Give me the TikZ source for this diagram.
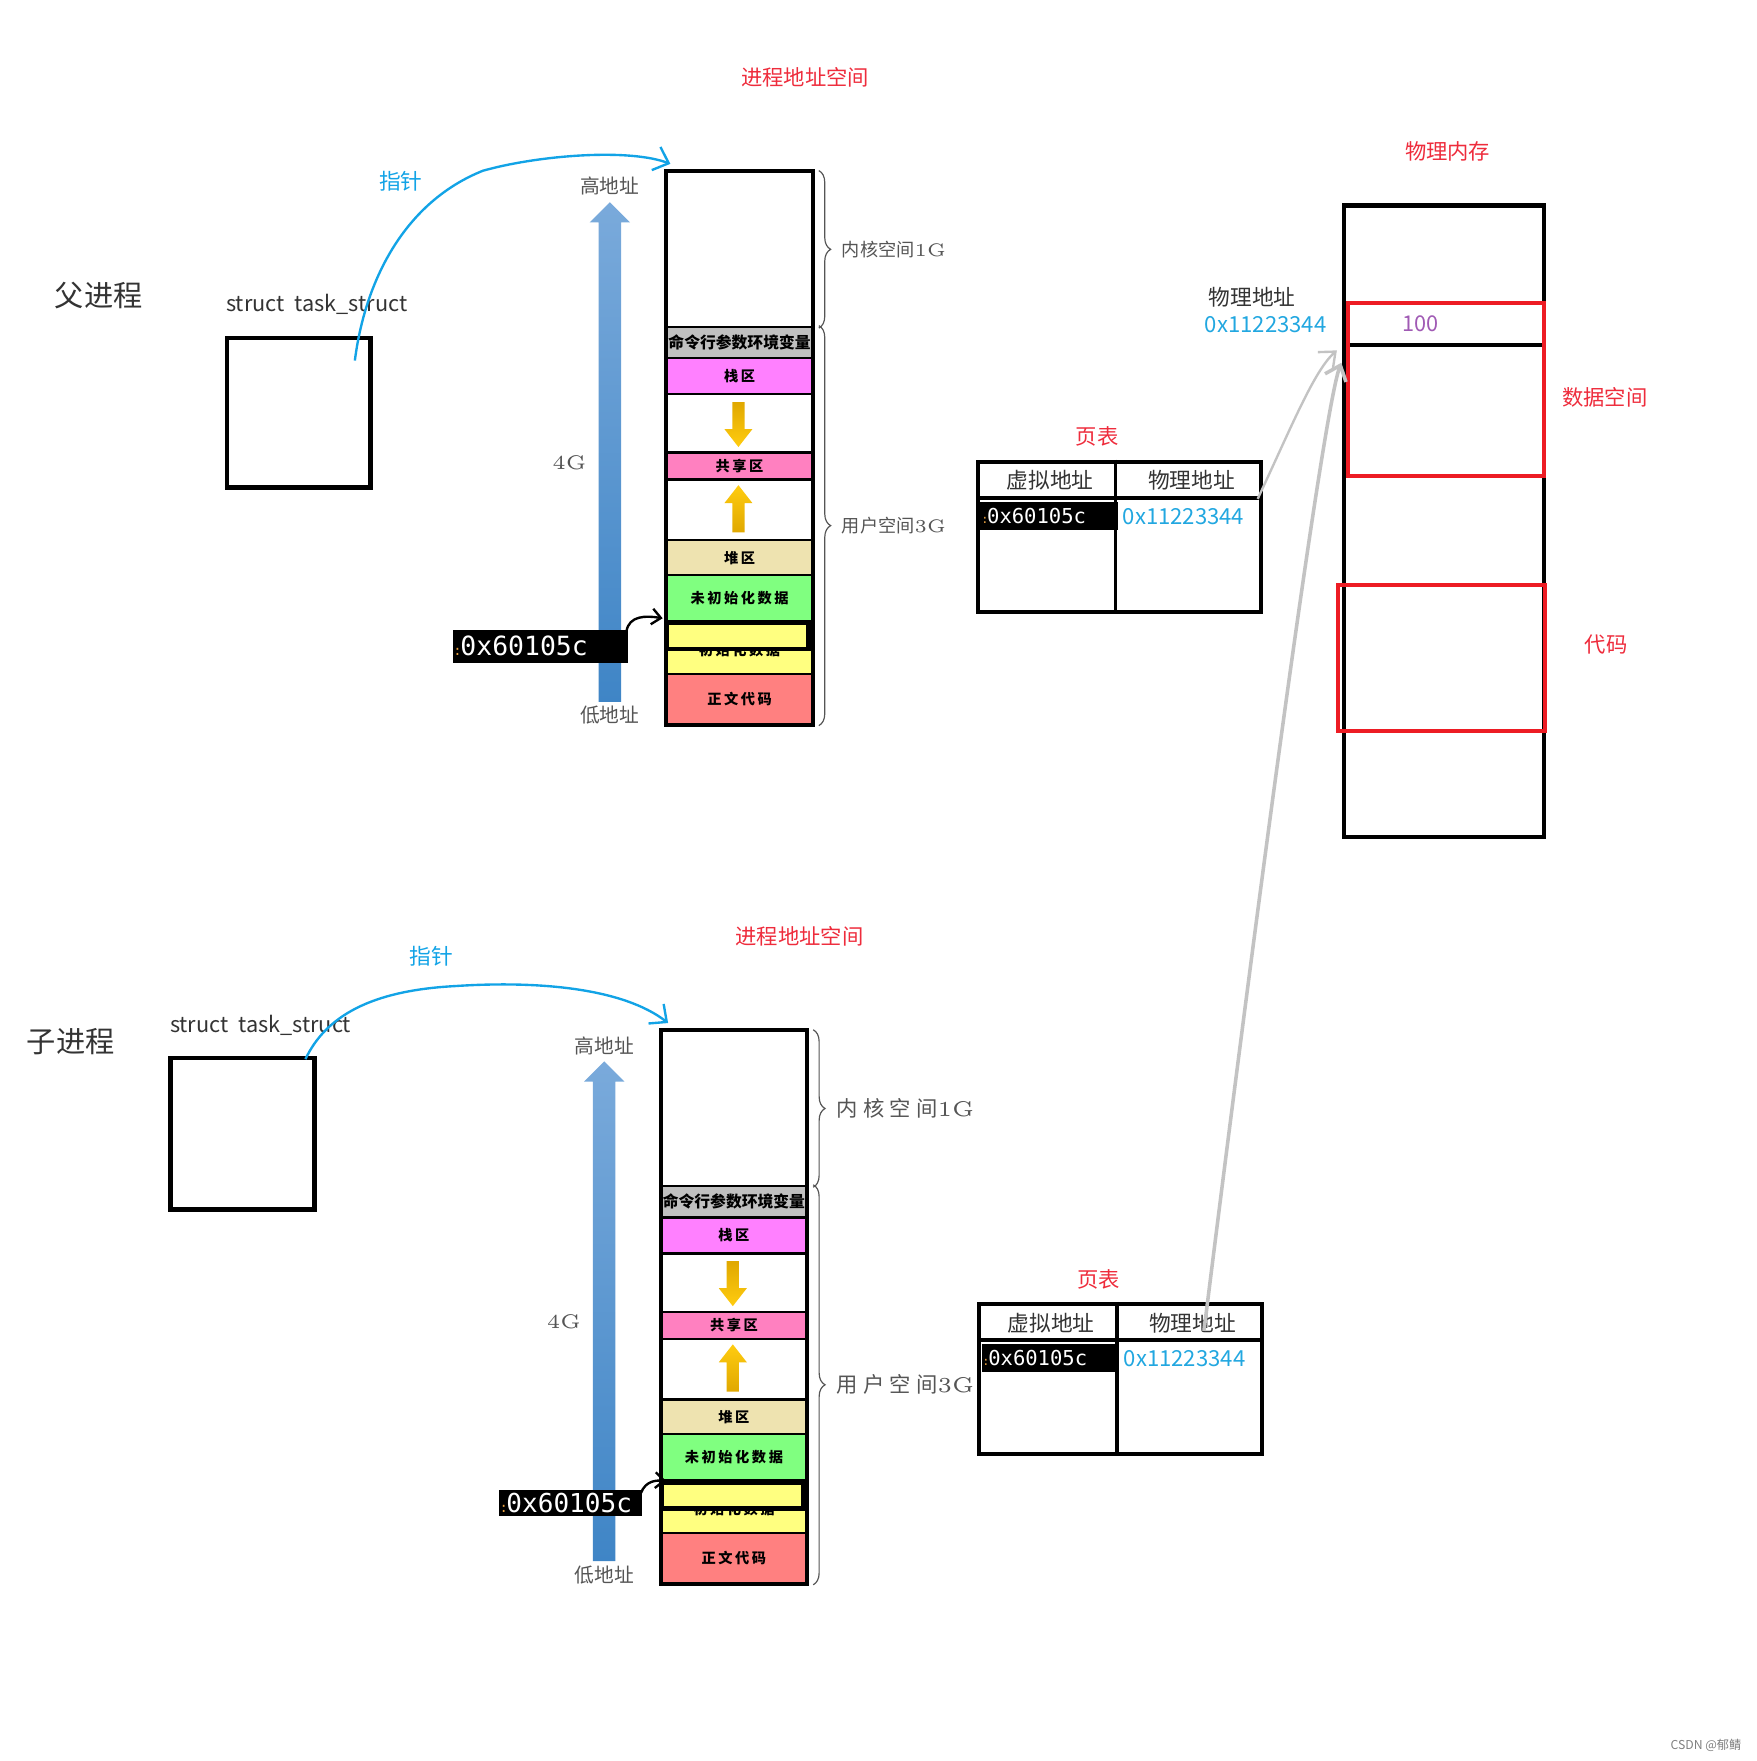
\documentclass[tikz,border=0pt]{standalone}
\usepackage{fontspec}
\newfontfamily\cjk{Noto Sans CJK SC}
\newfontfamily\hexfont{DejaVu Sans Mono}
\usetikzlibrary{arrows.meta,decorations.pathreplacing}
\definecolor{ptrblue}{HTML}{12A3E6}
\definecolor{hexblue}{HTML}{22A7E0}
\definecolor{labelred}{HTML}{EE2C3C}
\definecolor{memred}{HTML}{ED1C24}
\definecolor{valpurple}{HTML}{A05AB4}
\definecolor{linegray}{HTML}{C3C3C3}
\definecolor{textgray}{HTML}{555555}
\definecolor{headgray}{HTML}{333333}
\definecolor{hexcolon}{HTML}{E8A040}
\definecolor{bigtop}{HTML}{7AAADB}
\definecolor{bigbot}{HTML}{3F85C6}
\definecolor{ydark}{HTML}{E0A800}
\definecolor{ylight}{HTML}{FFCC10}
\definecolor{segcmd}{HTML}{C0C0C0}
\definecolor{segstack}{HTML}{FF80FF}
\definecolor{segshare}{HTML}{FF80C0}
\definecolor{segheap}{HTML}{EEE3B0}
\definecolor{segbss}{HTML}{80FF80}
\definecolor{segdata}{HTML}{FFFF80}
\definecolor{segtext}{HTML}{FF8080}
\newcommand{\segfont}{\cjk\bfseries\fontsize{3.6pt}{3.6pt}\selectfont\addfontfeatures{LetterSpace=18}}
\tikzstyle{seg}=[rectangle,draw=black,line width=0.6pt,inner sep=0pt,minimum width=1.29cm,font=\segfont]
\tikzstyle{structbox}=[rectangle,draw=black,line width=1.1pt,minimum width=1.28cm,minimum height=1.33cm]
\tikzstyle{tablebox}=[rectangle,draw=black,line width=1pt,minimum width=2.52cm,minimum height=1.34cm]
\tikzstyle{tableline}=[draw=black,line width=1pt]
\tikzstyle{redbox}=[rectangle,draw=memred,line width=1pt]
\tikzstyle{redlabel}=[text=labelred,font=\cjk\fontsize{5.4pt}{6pt}\selectfont]
\tikzstyle{addrlabel}=[text=textgray,font=\cjk\fontsize{5pt}{6pt}\selectfont]
\tikzstyle{headlabel}=[text=headgray,font=\cjk\fontsize{5.5pt}{6pt}\selectfont]
\tikzstyle{hexlabel}=[fill=black,text=white,inner ysep=0pt,align=left]
\tikzstyle{bluelabel}=[text=hexblue,inner sep=0pt,font=\cjk\fontsize{5.6pt}{6pt}\selectfont]
\tikzstyle{pointer}=[draw=ptrblue,line width=0.6pt,-{Straight Barb[length=0.12cm,width=0.22cm]}]
\tikzstyle{hand}=[draw=black,line width=0.6pt,-{Straight Barb[length=0.08cm,width=0.14cm]}]
\tikzstyle{grayarrow}=[draw=linegray,-{Straight Barb[length=0.12cm,width=0.2cm]}]
\tikzstyle{bracestyle}=[draw=textgray,line width=0.3pt,decorate,decoration={brace,amplitude=3pt}]

% one address space column, #1 prefix, (#2,#3) top left, #4 brace text font
\newcommand{\addrspace}[4]{%
\begin{scope}[shift={(#2,#3)}]
	\node[seg,minimum height=1.38cm] (#1-kern) at (64.5,69) {};
	\node[seg,fill=segcmd,minimum height=0.28cm,font=\cjk\bfseries\fontsize{4pt}{4pt}\selectfont] (#1-cmd) at (64.5,152) {命令行参数环境变量};
	\node[seg,fill=segstack,minimum height=0.32cm] (#1-stack) at (64.5,182) {栈区};
	\node[seg,minimum height=0.52cm] (#1-gapa) at (64.5,224) {};
	\node[seg,fill=segshare,minimum height=0.24cm] (#1-share) at (64.5,262) {共享区};
	\node[seg,minimum height=0.54cm] (#1-gapb) at (64.5,301) {};
	\node[seg,fill=segheap,minimum height=0.31cm] (#1-heap) at (64.5,343.5) {堆区};
	\node[seg,fill=segbss,minimum height=0.41cm] (#1-bss) at (64.5,379.5) {未初始化数据};
	\node[seg,fill=segdata,minimum height=0.47cm] (#1-data) at (64.5,423.5) {};
	\node[font=\segfont,inner sep=0pt] (#1-datatext) at (64.5,426) {初始化数据};
	\node[seg,fill=segdata,line width=1.1pt,minimum width=1.26cm,minimum height=0.23cm] (#1-hit) at (63,413.5) {};
	\node[seg,fill=segtext,minimum height=0.45cm] (#1-text) at (64.5,469.5) {正文代码};
	\draw[line width=0.8pt] (#1-kern.north west) rectangle (#1-text.south east);
	% growth arrows
	\shade[top color=ydark,bottom color=ylight] (58,205) -- (69,205) -- (69,229) -- (76,229) -- (63.5,245) -- (51,229) -- (58,229) -- cycle;
	\shade[top color=ylight,bottom color=ydark] (63.5,279) -- (76,295) -- (69,295) -- (69,321) -- (58,321) -- (58,295) -- (51,295) -- cycle;
	% address arrow
	\shade[top color=bigtop,bottom color=bigbot] (-61,472) -- (-61,45) -- (-69,45) -- (-51,27) -- (-33,45) -- (-41,45) -- (-41,472) -- cycle;
	\node[addrlabel] (#1-high) at (-51,13) {高地址};
	\node[addrlabel] (#1-low) at (-51,484) {低地址};
	\node[text=textgray,font=\fontsize{5pt}{6pt}\selectfont] (#1-size) at (-87,259) {4G};
	\node[redlabel] (#1-title) at (123,-84) {进程地址空间};
	\draw[bracestyle] ([xshift=0.05cm]#1-kern.north east) -- ([xshift=0.05cm]#1-kern.south east);
	\draw[bracestyle] ([xshift=0.05cm]#1-cmd.north east) -- ([xshift=0.05cm]#1-text.south east);
	\node[anchor=west,text=textgray,inner sep=0pt,font={\cjk#4}] (#1-klabel) at (155,69) {内核空间\rmfamily 1G};
	\node[anchor=west,text=textgray,inner sep=0pt,font={\cjk#4}] (#1-ulabel) at (155,315) {用户空间\rmfamily 3G};
\end{scope}}

% one page table, #1 name, (#2,#3) top left
\newcommand{\pagetable}[3]{%
\begin{scope}[shift={(#2,#3)}]
	\node[tablebox] (#1) at (126,67) {};
	\node[redlabel] (#1-title) at (106,-22) {页表};
	\draw[tableline] ([yshift=-0.34cm]#1.north west) -- ([yshift=-0.34cm]#1.north east);
	\draw[tableline] ([xshift=1.24cm]#1.north west) -- ([xshift=1.24cm]#1.south west);
	\node[headlabel] (#1-vhead) at (64,17) {虚拟地址};
	\node[headlabel] (#1-phead) at (190,17) {物理地址};
	\node[hexlabel,text width=1.18cm,inner xsep=0.02cm,minimum height=0.25cm,font=\hexfont\fontsize{5.2pt}{5.2pt}\selectfont] (#1-va) at (63,48.5) {\makebox[0.04cm][c]{\color{hexcolon}\fontsize{3pt}{3pt}\selectfont:}0x60105c};
	\node[bluelabel,anchor=west] (#1-pa) at (128,49) {0x11223344};
\end{scope}}

\begin{document}
\begin{tikzpicture}[x=0.01cm,y=-0.01cm]
	\useasboundingbox (0,0) rectangle (1564,1568);
	
	% parent
	\node[text=headgray,font=\cjk\fontsize{7.4pt}{8pt}\selectfont] (pname) at (88,263) {父进程};
	\node[text=headgray,font=\cjk\fontsize{5.5pt}{6pt}\selectfont] (pstructname) at (282,271) {struct\ \ task\_struct};
	\node[structbox] (pstruct) at (266,367.5) {};
	\node[text=ptrblue,font=\cjk\fontsize{5.5pt}{6pt}\selectfont] (pptr) at (357,161) {指针};
	\addrspace{p}{594}{153}{\fontsize{4.6pt}{5pt}\selectfont}
	\node[hexlabel,text width=1.52cm,inner xsep=0.02cm,minimum height=0.29cm,font=\hexfont\fontsize{6.7pt}{7pt}\selectfont] (phex) at (481,575.5) {\makebox[0.05cm][c]{\color{hexcolon}\fontsize{3.5pt}{3.5pt}\selectfont:}0x60105c};
	\draw[pointer] ([shift={(-16,22)}]pstruct.north east) .. controls (325,250) and (360,180) .. (430,152) .. controls (480,138) and (560,132) .. ([shift={(4,-6)}]p-kern.north west);
	\draw[hand] ([shift={(-2,2)}]phex.north east) .. controls (560,548) and (575,548) .. ([shift={(-2,-16)}]p-hit.west);
	\pagetable{ptop}{871}{411}
	
	% child
	\node[text=headgray,font=\cjk\fontsize{7.4pt}{8pt}\selectfont] (cname) at (63,927) {子进程};
	\node[text=headgray,font=\cjk\fontsize{5.5pt}{6pt}\selectfont] (cstructname) at (232,913) {struct\ \ task\_struct};
	\node[structbox,minimum height=1.35cm] (cstruct) at (216,1009.5) {};
	\node[text=ptrblue,font=\cjk\fontsize{5.5pt}{6pt}\selectfont] (cptr) at (384,851) {指针};
	\addrspace{c}{589}{918}{\fontsize{5.4pt}{6pt}\selectfont\addfontfeatures{LetterSpace=25}}
	\node[hexlabel,text width=1.24cm,inner xsep=0.02cm,minimum height=0.23cm,font=\hexfont\fontsize{6.6pt}{7pt}\selectfont] (chex) at (508,1338.5) {\makebox[0.05cm][c]{\color{hexcolon}\fontsize{3.5pt}{3.5pt}\selectfont:}0x60105c};
	\draw[pointer] ([shift={(-10,3)}]cstruct.north east) .. controls (290,905) and (330,882) .. (405,878) .. controls (480,873) and (555,880) .. ([shift={(7,-6)}]c-kern.north west);
	\draw[hand] ([shift={(-2,3)}]chex.north east) .. controls (575,1318) and (585,1318) .. ([shift={(6,-13)}]c-hit.west);
	\pagetable{pbot}{872}{1161}
	
	% physical memory
	\node[redlabel] (memtitle) at (1289,135) {物理内存};
	\node[rectangle,draw=black,line width=1.1pt,minimum width=1.78cm,minimum height=5.62cm] (mem) at (1286,464) {};
	\node[rectangle,draw=black,line width=0.9pt,minimum width=1.75cm,minimum height=0.33cm,text=valpurple,font=\cjk\fontsize{5.5pt}{6pt}\selectfont] (cell100) at (1287.5,288.5) {\hspace*{-0.45cm}100};
	\node[redbox,minimum width=1.75cm,minimum height=1.54cm] (dataspace) at (1287.5,347) {};
	\node[redbox,minimum width=1.85cm,minimum height=1.30cm] (codespace) at (1283.5,586) {};
	\node[redlabel] (datalabel) at (1429,354) {数据空间};
	\node[redlabel] (codelabel) at (1430,574) {代码};
	\node[headlabel] (palabel) at (1115,265) {物理地址};
	\node[bluelabel] (paval) at (1127,289) {0x11223344};
	
	% page table entries to memory
	\draw[grayarrow,line width=0.6pt] ([shift={(-5,35)}]ptop.north east) .. controls (1150,380) and (1170,330) .. ([shift={(-8,3)}]cell100.south west);
	\draw[grayarrow,line width=0.9pt] ([shift={(10,7)}]pbot-phead.center) .. controls (1130,720) and (1180,360) .. ([shift={(-4,14)}]cell100.south west);
	
	\node[text=gray,font=\cjk\fontsize{3.1pt}{4pt}\selectfont] (mark) at (1519,1554) {CSDN @郁鲭};
\end{tikzpicture}
\end{document}
